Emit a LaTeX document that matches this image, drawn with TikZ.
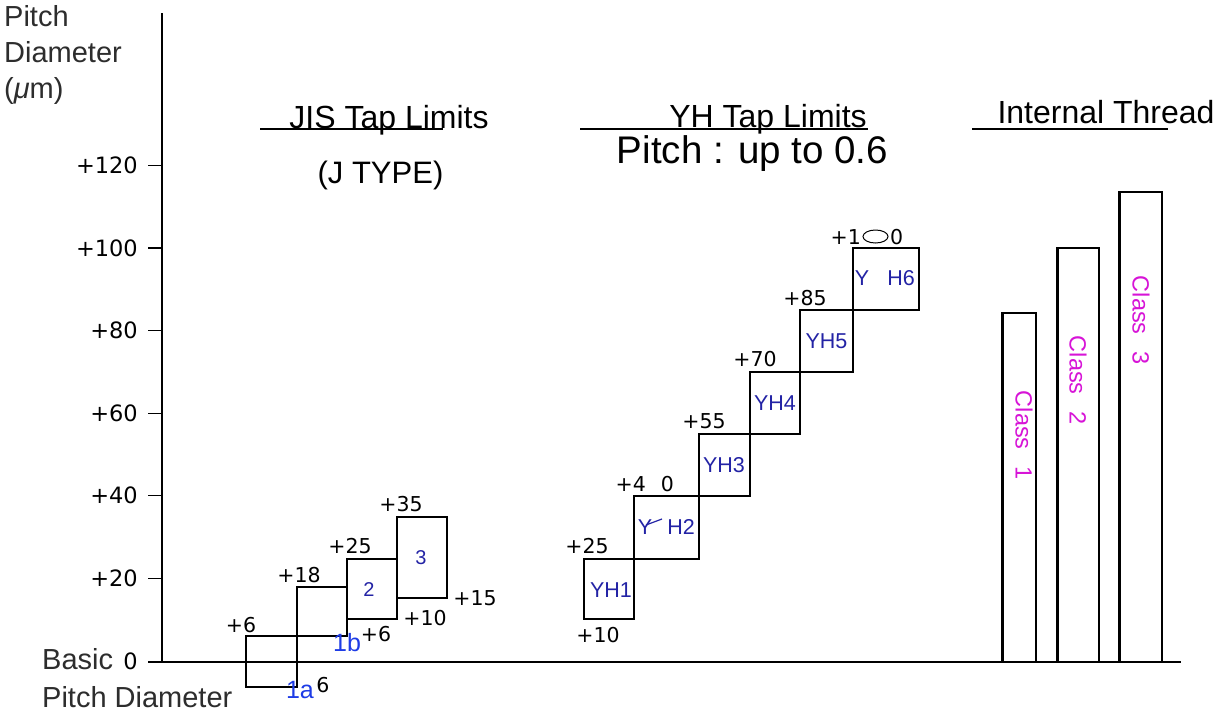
\documentclass[tikz,border=0pt]{standalone}
\usepackage{fontspec}
\setmainfont{Liberation Sans}
\newfontfamily\dvs{DejaVu Sans}
\definecolor{navy}{RGB}{35,35,165}
\definecolor{brightblue}{RGB}{30,60,230}
\definecolor{mag}{RGB}{215,20,215}
\definecolor{txtgray}{RGB}{45,45,45}
\begin{document}
\begin{tikzpicture}[x=1pt,y=-1pt,
  thinline/.style={line width=1.1pt},
  thickline/.style={line width=2.2pt},
  barline/.style={line width=3pt},
  num/.style={inner sep=0pt,font=\dvs\fontsize{20.5}{24}\selectfont},
  ticklab/.style={inner sep=0pt,anchor=east,font=\dvs\fontsize{22.5}{26}\selectfont},
  title/.style={inner sep=0pt,anchor=base,font=\fontsize{32}{38}\selectfont},
  axlab/.style={inner sep=0pt,anchor=base west,text=txtgray,font=\fontsize{29}{34}\selectfont},
  yhlab/.style={inner sep=0pt,text=navy,font=\fontsize{21.5}{26}\selectfont},
  jislab/.style={inner sep=0pt,text=navy,font=\fontsize{20}{24}\selectfont},
  onelab/.style={inner sep=0pt,text=brightblue,font=\fontsize{25}{30}\selectfont},
  classlab/.style={inner sep=0pt,text=mag,rotate=-90,font=\fontsize{23.5}{28}\selectfont}
]
\useasboundingbox[fill=white] (0,0) rectangle (1226,718);

% axis
\draw[thinline] (162,13) -- (162,662);
\draw[thinline] (148,662) -- (1181,662);
\foreach \yy in {165.4,248,330.6,413.2,495.8,578.4}
  \draw[thinline] (148,\yy) -- (162,\yy);

% axis labels
\node[axlab] (lp) at (4,26) {Pitch};
\node[axlab] (ld) at (4,62) {Diameter};
\node[axlab] (lu) at (4,98) {(\textit{μ}m)};
\node[axlab] (lb) at (42,669) {Basic};
\node[axlab] (lpd) at (42,707) {Pitch Diameter};

\node[ticklab] (t120) at (138,165.4) {+120};
\node[ticklab] (t100) at (138,248) {+100};
\node[ticklab] (t80) at (138,330.6) {+80};
\node[ticklab] (t60) at (138,413.2) {+60};
\node[ticklab] (t40) at (138,495.8) {+40};
\node[ticklab] (t20) at (138,578.4) {+20};
\node[ticklab] (t0) at (138,661) {0};

% titles
\node[title] (jis) at (389,128) {JIS Tap Limits};
\draw[thinline] (260,129) -- (443,129);
\node[title,font=\fontsize{31}{36}\selectfont] (jtype) at (380.5,183) {(J TYPE)};
\node[title] (yh) at (768,127) {YH Tap Limits};
\draw[thinline] (580,129) -- (868,129);
\node[title,font=\fontsize{38.5}{44}\selectfont] (pitch) at (752.5,163) {Pitch : up to 0.6};
\node[title] (inth) at (1106,123) {Internal Thread};
\draw[thinline] (972,129) -- (1168,129);

% JIS boxes
\draw[thinline] (246,636) rectangle (297,687);
\draw[thinline] (297,587) rectangle (347,636);
\draw[thinline] (347,559) rectangle (397,619);
\draw[thinline] (397,517) rectangle (447,598);
\draw[thickline] (347,559) -- (397,559);
\draw[thickline] (397,517) -- (397,600);

\node[num] (j6) at (241,625) {+6};
\node[num] (j18) at (299,575) {+18};
\node[num] (j25) at (350,546) {+25};
\node[num] (j35) at (401,504) {+35};
\node[num] (j15) at (475,598) {+15};
\node[num] (j10) at (425,618) {+10};
\node[onelab] (l1b) at (347,643) {1b};
\node[num] (j6b) at (376,634) {+6};
\node[onelab] (l1a) at (300,690) {1a};
\node[num] (j6c) at (323,685) {6};
\node[jislab] (l2) at (369,590) {2};
\node[jislab] (l3) at (421,558) {3};

% YH boxes
\draw[thinline] (584,559) rectangle (634,619);
\draw[thinline] (634,496) rectangle (699,559);
\draw[thinline] (699,434) rectangle (750,496);
\draw[thinline] (750,372) rectangle (800,434);
\draw[thinline] (800,310) rectangle (853,372);
\draw[thinline] (853,248) rectangle (919,310);
\draw[thickline] (584,559) -- (699,559);
\draw[thickline] (750,372) -- (750,496);
\draw[thickline] (853,248) -- (919,248) -- (919,310);

\node[num] (y25) at (587,546) {+25};
\node[num] (y10) at (598,635) {+10};
\node[num,anchor=east] (y4) at (646,484) {+4};
\node[num] (y0) at (667.5,484) {0};
\node[num] (y55) at (704,421) {+55};
\node[num] (y70) at (755,359) {+70};
\node[num] (y85) at (805,298) {+85};
\node[num,anchor=east] (y1) at (861,237) {+1};
\draw[line width=1pt] (875.5,236.5) ellipse [x radius=12.5, y radius=6.5];
\node[num,anchor=west] (y00) at (890,237) {0};

\node[yhlab] (yh1) at (611,590) {YH1};
\node[yhlab] (yh2y) at (645,527) {Y};
\draw[navy,line width=1.2pt] (646,525) -- (662,519);
\node[yhlab] (yh2h) at (681,527) {H2};
\node[yhlab] (yh3) at (724,465) {YH3};
\node[yhlab] (yh4) at (775,403) {YH4};
\node[yhlab] (yh5) at (826.5,341.5) {YH5};
\node[yhlab] (yh6y) at (862,278) {Y};
\node[yhlab] (yh6h) at (901,278) {H6};

% internal thread bars
\draw[line width=2pt] (1002,661) -- (1002,313) -- (1036,313) -- (1036,661);
\draw[barline] (1002,661) -- (1002,313);
\draw[line width=2pt] (1057,661) -- (1057,248) -- (1099,248) -- (1099,661);
\draw[barline] (1057,661) -- (1057,248);
\draw[line width=2pt] (1119,661) -- (1119,192) -- (1162,192) -- (1162,661);
\draw[barline] (1119,661) -- (1119,192);

\node[classlab] (c1) at (1024,435) {Class\hspace{0.7em}1};
\node[classlab] (c2) at (1078,380) {Class\hspace{0.7em}2};
\node[classlab] (c3) at (1141,320) {Class\hspace{0.7em}3};
\end{tikzpicture}
\end{document}
